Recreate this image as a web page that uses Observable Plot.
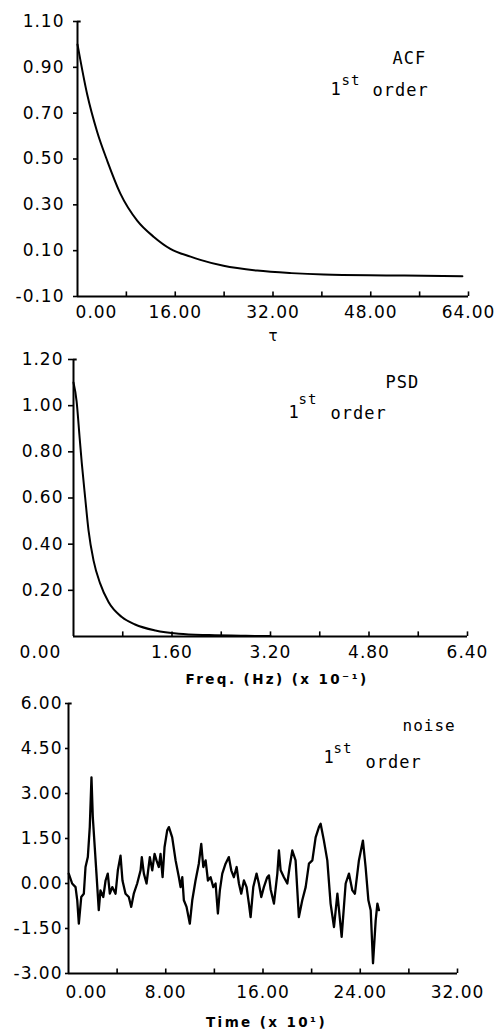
<!DOCTYPE html>
<html><head><meta charset="utf-8">
<script src="https://cdn.jsdelivr.net/npm/d3@7"></script>
<script src="https://cdn.jsdelivr.net/npm/@observablehq/plot@0.6"></script>
<style>
html,body{margin:0;padding:0;background:#fff;overflow:hidden;}
#chart{width:501px;}
#chart svg{display:block;}
</style></head><body><div id="chart"></div>
<script>
// ---- Panel 1: ACF ----
const acfTau = [0, 1.6, 3.2, 4.9, 7.0, 9.8, 12.5, 15.2, 18.5, 20.1, 23.9, 29.4, 35.0, 40.3, 51.2, 63.0];
const acfVal = [1.00, 0.78, 0.62, 0.49, 0.35, 0.23, 0.16, 0.108, 0.074, 0.060, 0.034, 0.013, 0.002, -0.004, -0.008, -0.012];
const acfYTicks = [1.10, 0.90, 0.70, 0.50, 0.30, 0.10, -0.10];
const acfXLabels = [0, 16, 32, 48, 64];
const acfXTicks = [8, 16, 24, 32, 40, 48, 56, 64];

// ---- Panel 2: PSD ----
const psdFreq = [0, 0.05, 0.10, 0.135, 0.19, 0.244, 0.325, 0.434, 0.569, 0.785, 1.0, 1.33, 1.71, 2.2, 2.8, 3.2];
const psdVal = [1.10, 1.02, 0.86, 0.75, 0.60, 0.46, 0.33, 0.229, 0.149, 0.084, 0.052, 0.026, 0.012, 0.006, 0.003, 0.002];
const psdYTicks = [1.20, 1.00, 0.80, 0.60, 0.40, 0.20];
const psdXLabels = [1.6, 3.2, 4.8, 6.4];
const psdXTicks = [0.8, 1.6, 2.4, 3.2, 4.0, 4.8, 5.6, 6.4];

// ---- Panel 3: noise ----
const noiseT = [0.02,0.30,0.58,0.72,0.85,1.05,1.26,1.40,1.59,1.75,
1.89,2.00,2.16,2.30,2.49,2.63,2.86,3.05,3.23,3.40,
3.60,3.87,4.06,4.28,4.44,4.69,4.96,5.16,5.37,5.65,
5.93,6.03,6.20,6.42,6.69,6.89,7.08,7.24,7.43,7.57,
7.74,7.90,8.12,8.26,8.53,8.81,9.08,9.22,9.36,9.49,
9.71,9.98,10.18,10.45,10.72,10.92,11.09,11.28,11.47,11.69,
11.91,12.10,12.29,12.45,12.65,12.92,13.19,13.39,13.60,13.83,
14.02,14.21,14.43,14.65,14.84,14.98,15.20,15.47,15.66,15.86,
16.07,16.35,16.49,16.63,16.90,17.18,17.31,17.45,17.72,18.00,
18.19,18.41,18.68,18.95,19.23,19.51,19.78,20.06,20.33,20.60,
20.74,21.01,21.29,21.56,21.84,22.12,22.47,22.80,23.07,23.35,
23.56,23.89,24.22,24.44,24.67,24.86,25.05,25.27,25.41,25.54];
const noiseV = [0.33,0.00,-0.12,-0.56,-1.34,-0.45,-0.34,0.55,0.88,1.88,
3.54,2.21,1.21,0.33,-0.89,-0.23,-0.45,0.10,0.33,-0.34,
-0.12,-0.34,0.44,0.93,0.10,-0.34,-0.45,-0.78,-0.34,0.00,
0.44,0.88,0.33,0.00,0.88,0.44,0.99,0.77,0.55,0.99,
0.21,1.21,1.77,1.88,1.54,0.77,0.21,-0.12,0.21,-0.56,
-0.78,-1.34,-0.56,0.10,0.66,1.32,0.55,0.77,0.10,0.21,
-0.12,0.00,-1.00,-0.23,0.33,0.66,0.88,0.44,0.21,0.55,
0.00,-0.34,0.10,-0.12,-0.67,-1.12,-0.12,0.33,0.00,-0.45,
-0.12,0.21,0.27,-0.20,-0.67,0.33,1.10,0.44,0.21,0.00,
0.55,1.10,0.77,-1.12,-0.56,-0.12,0.66,0.77,1.54,1.88,
1.99,1.43,0.77,-0.67,-1.45,-0.34,-1.78,0.00,0.33,-0.23,
-0.34,0.77,1.43,0.55,-0.56,-0.89,-2.66,-1.23,-0.67,-0.89];
const noiseYTicks = [6.00, 4.50, 3.00, 1.50, 0.00, -1.50, -3.00];
const noiseXLabels = [8, 16, 24, 32];
const noiseXTicks = [4, 8, 12, 16, 20, 24, 28, 32];

const W = 501;
const MONO = "DejaVu Sans Mono";
const SANS = "DejaVu Sans";

function note(txt, ax, ay, m, opts = {}) {
  return Plot.text([txt], {
    frameAnchor: "top-left", dx: ax - m.left, dy: ay - m.top,
    text: d => d, lineAnchor: "bottom", textAnchor: "start",
    fill: "black", fontFamily: MONO, fontSize: 17, ...opts
  });
}

function panel({height, m, xDomain, yDomain, series, curve, sw, yTicks, tickSize, tickPadding,
                xLabels, xTicks, xLabelPad, zeroDx, tickLenY, hookLenX, notes}) {
  const [y0, y1] = yDomain;
  const [x0] = xDomain;
  const svg = Plot.plot({
    width: W, height,
    marginTop: m.top, marginBottom: m.bottom, marginLeft: m.left, marginRight: m.right,
    style: {fontFamily: SANS, fontSize: "17px", letterSpacing: "1px", background: "#fff", color: "#000"},
    x: {domain: xDomain, label: null},
    y: {domain: yDomain, label: null},
    marks: [
      Plot.ruleX([x0], {strokeWidth: 2}),
      Plot.ruleY([y0], {strokeWidth: 2}),
      Plot.ruleY([y1], {x1: x0, x2: x0 + hookLenX, strokeWidth: 2}),
      Plot.ruleX(xTicks, {y1: y0, y2: y0 + tickLenY, strokeWidth: 1.6}),
      Plot.axisY(yTicks, {tickSize, tickPadding, strokeWidth: 1.6, tickFormat: d => d.toFixed(2), label: null}),
      Plot.axisX(xLabels, {tickSize: 0, tickPadding: xLabelPad, tickFormat: d => d.toFixed(2), label: null}),
      Plot.text(["0.00"], {frameAnchor: "bottom-left", text: d => d, dx: zeroDx, dy: xLabelPad, lineAnchor: "top", textAnchor: "middle"}),
      Plot.line(series, {x: "x", y: "y", curve, strokeWidth: sw, stroke: "black"}),
      ...notes
    ]
  });
  d3.select(svg).selectAll("text")
    .filter(function() { const t = this.textContent; return t.startsWith("Freq") || t.startsWith("Time"); })
    .style("letter-spacing", "2.4px");
  return svg;
}

const root = document.getElementById("chart");

// Panel 1
const m1 = {top: 21, bottom: 49, left: 77, right: 33};
root.appendChild(panel({
  height: 345, m: m1, xDomain: [0, 64], yDomain: [-0.1, 1.1],
  series: acfTau.map((x, i) => ({x, y: acfVal[i]})), curve: "monotone-x", sw: 2,
  yTicks: acfYTicks, tickSize: 4, tickPadding: 9,
  xLabels: acfXLabels.filter(d => d !== 0), xTicks: acfXTicks, xLabelPad: 9, zeroDx: 19,
  tickLenY: 0.02, hookLenX: 0.6,
  notes: [
    note("ACF", 392, 63, m1),
    note("1", 330, 94, m1),
    note("st", 341, 84, m1, {fontSize: 14}),
    note("order", 372, 95, m1),
    note("τ", 273, 340, m1, {fontFamily: SANS, fontSize: 15, textAnchor: "middle"})
  ]
}));

// Panel 2
const m2 = {top: 14, bottom: 54, left: 73, right: 34};
root.appendChild(panel({
  height: 345, m: m2, xDomain: [0, 6.4], yDomain: [0, 1.2],
  series: psdFreq.map((x, i) => ({x, y: psdVal[i]})), curve: "monotone-x", sw: 2,
  yTicks: psdYTicks, tickSize: 5, tickPadding: 5,
  xLabels: psdXLabels, xTicks: psdXTicks, xLabelPad: 9, zeroDx: -33,
  tickLenY: 0.02, hookLenX: 0.06,
  notes: [
    note("PSD", 385, 42, m2),
    note("1", 288, 72, m2),
    note("st", 298, 58, m2, {fontSize: 14}),
    note("order", 330, 73, m2),
    note("Freq. (Hz) (x 10⁻¹)", 185, 338, m2, {fontFamily: SANS, fontSize: 13.5, fontWeight: "bold"})
  ]
}));

// Panel 3
const m3 = {top: 13, bottom: 56, left: 68, right: 44};
root.appendChild(panel({
  height: 339, m: m3, xDomain: [0, 32], yDomain: [-3, 6],
  series: noiseT.map((x, i) => ({x, y: noiseV[i]})), curve: "linear", sw: 2.3,
  yTicks: noiseYTicks, tickSize: 3, tickPadding: 3,
  xLabels: noiseXLabels, xTicks: noiseXTicks, xLabelPad: 12, zeroDx: 18,
  tickLenY: 0.15, hookLenX: 0.3,
  notes: [
    note("noise", 402, 40, m3, {fontSize: 16}),
    note("1", 323, 72, m3),
    note("st", 333, 62, m3, {fontSize: 14}),
    note("order", 365, 77, m3),
    note("Time (x 10¹)", 266, 336, m3, {fontFamily: SANS, fontSize: 13.5, fontWeight: "bold", textAnchor: "middle"})
  ]
}));
</script></body></html>
